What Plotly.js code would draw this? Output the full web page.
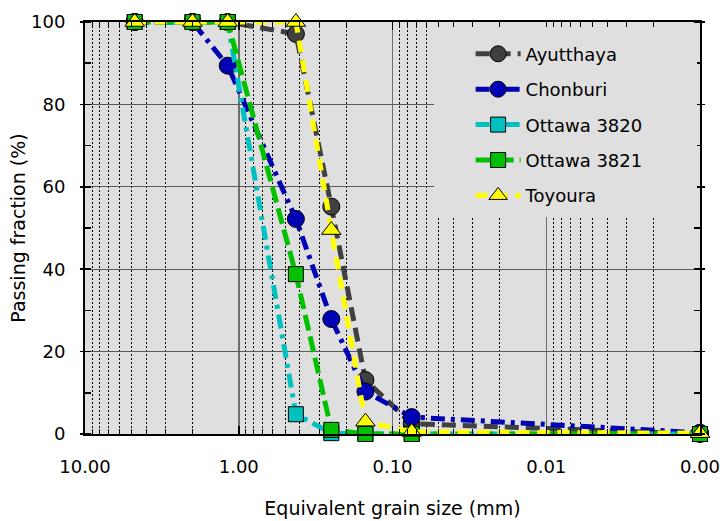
<!DOCTYPE html>
<html>
<head>
<meta charset="utf-8">
<script src="https://cdn.plot.ly/plotly-3.0.1.min.js"></script>
<style>html,body{margin:0;padding:0;background:#fff}</style>
</head>
<body>
<div id="chart" style="width:722px;height:521px"></div>
<script>
// Sieve sizes (mm)
const grainSize = [4.75, 2.0, 1.18, 0.425, 0.25, 0.15, 0.075, 0.001];
// Passing fraction (%)
const ayutthaya  = [100, 100, 100, 97.1, 55.2, 13.1, 2.5, 0.0];
const chonburi   = [100, 100, 89.4, 52.2, 27.9, 10.3, 4.1, 0.3];
const ottawa3820 = [100, 100, 100, 4.8, 0.2, 0.0, 0.0, 0.0];
const ottawa3821 = [100, 100, 100, 38.8, 1.0, 0.0, 0.0, 0.0];
const toyoura    = [100, 100, 100, 100, 49.5, 3.0, 0.5, 0.2];
const seriesNames = ['Ayutthaya', 'Chonburi', 'Ottawa 3820', 'Ottawa 3821', 'Toyoura'];
const xTickVals = [10, 1, 0.1, 0.01, 0.001];
const xTickText = ['10.00', '1.00', '0.10', '0.01', '0.00'];
const yTickVals = [0, 20, 40, 60, 80, 100];

const seriesData = [ayutthaya, chonburi, ottawa3820, ottawa3821, toyoura];
const styles = [
  {color:'#404040', symbol:'circle', size:17, dash:'14px,7px'},
  {color:'#0000b4', symbol:'circle', size:17, dash:'14px,6px,4px,6px'},
  {color:'#00c0c0', symbol:'square', size:15, dash:'14px,6px,4px,6px'},
  {color:'#00c000', symbol:'square', size:15, dash:'16px,6px'},
  {color:'#ffff00', symbol:'triangle-up', size:17, dash:'12px,8px'}
];

const traces = seriesData.map((ys, i) => ({
  type:'scatter', mode:'lines+markers', name: seriesNames[i],
  x: grainSize, y: ys, legendgroup: 'g' + i,
  line:{color: styles[i].color, width:5, dash: styles[i].dash},
  marker:{color: styles[i].color, symbol: styles[i].symbol, size: styles[i].size,
          line:{color:'#000', width:1}},
  cliponaxis:false
}));

// minor log positions
const minorX = [];
for (let d = -3; d < 1; d++) for (let k = 2; k <= 9; k++) minorX.push(k * Math.pow(10, d));

const FONT = 'DejaVu Sans';
const layout = {
  width:722, height:521,
  margin:{l:85, r:22, t:22, b:87},
  paper_bgcolor:'#ffffff', plot_bgcolor:'#dfdfdf',
  font:{family:FONT, size:18, color:'#000'},
  showlegend:true,
  xaxis:{
    type:'log', range:[1, -3], autorange:false,
    tickmode:'array', tickvals:xTickVals, ticktext:xTickText,
    ticks:'inside', ticklen:8, tickwidth:1.5, tickcolor:'#000',
    showgrid:true, gridcolor:'#6e6e6e', gridwidth:1.5,
    showline:true, linecolor:'#000', linewidth:2, mirror:'allticks',
    zeroline:false, ticklabelstandoff:15,
    tickfont:{family:FONT, size:18},
    minor:{tickvals:minorX, ticks:'inside', ticklen:5, tickcolor:'#000', tickwidth:1,
           showgrid:true, gridcolor:'#000', gridwidth:1, griddash:'2px,2px'},
    title:{text:'Equivalent grain size (mm)', font:{family:FONT, size:19}, standoff:26}
  },
  yaxis:{
    range:[0, 100], autorange:false,
    tickmode:'array', tickvals:yTickVals,
    ticks:'outside', ticklen:3, tickwidth:1.5, tickcolor:'#000',
    showgrid:true, gridcolor:'#5a5a5a', gridwidth:1.2,
    showline:true, linecolor:'#000', linewidth:2, mirror:'allticks',
    zeroline:false, ticklabelstandoff:11,
    tickfont:{family:FONT, size:18},
    minor:{dtick:10, ticks:'inside', ticklen:6, tickcolor:'#000', tickwidth:1.5, showgrid:false},
    title:{text:'Passing fraction (%)', font:{family:FONT, size:19}, standoff:0}
  },
  legend:{
    x:0.627, y:0.967, xanchor:'left', yanchor:'top',
    bgcolor:'rgba(0,0,0,0)', borderwidth:0,
    font:{family:FONT, size:18},
    itemwidth:45, tracegroupgap:9, traceorder:'grouped'
  },
  shapes:[{
    type:'rect', xref:'paper', yref:'paper', layer:'above',
    x0:(434-85)/615, x1:(697-85)/615, y0:(434-217)/412, y1:(434-27)/412,
    fillcolor:'#dfdfdf', line:{width:0}
  }]
};

Plotly.newPlot('chart', traces, layout, {displayModeBar:false, staticPlot:true});
</script>
</body>
</html>
